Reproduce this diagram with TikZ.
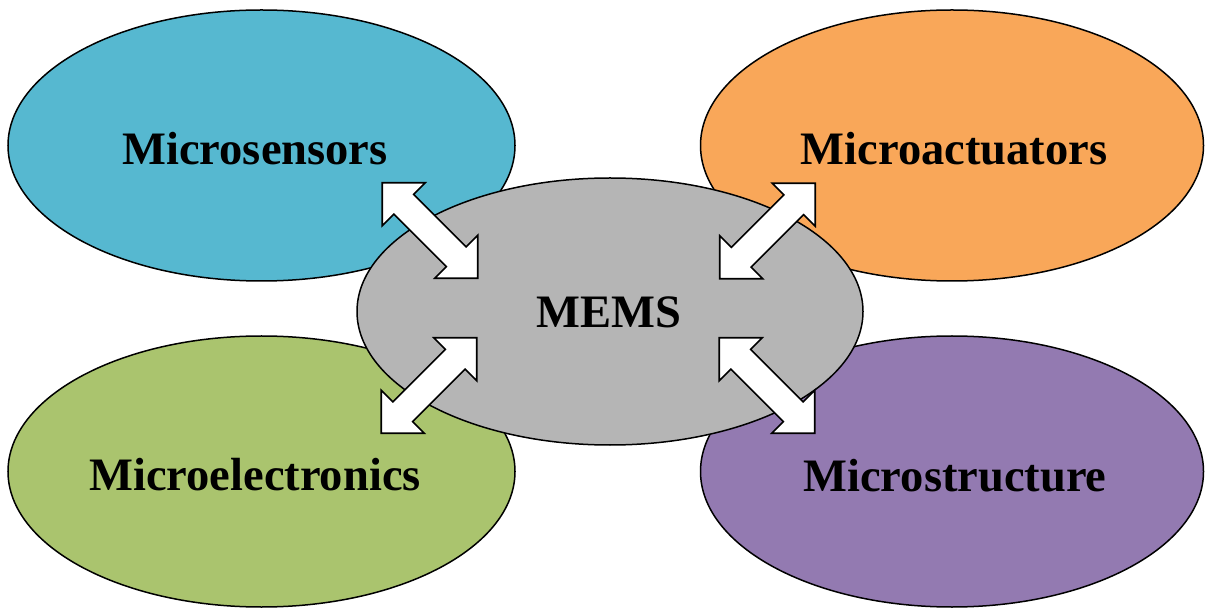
\documentclass[tikz,border=0pt]{standalone}
\usepackage{fontspec}
\setmainfont{Liberation Serif}
\definecolor{cblue}{RGB}{86,184,208}
\definecolor{corange}{RGB}{249,167,89}
\definecolor{cgreen}{RGB}{170,196,110}
\definecolor{cpurple}{RGB}{147,122,177}
\definecolor{cgray}{RGB}{181,181,181}
\tikzset{
  blob/.style={draw=black,line width=1.5pt},
  lbl/.style={font=\bfseries\fontsize{46.5}{50}\selectfont,anchor=base,inner sep=0pt},
  blockarrow/.pic={
    \draw[fill=white,draw=black,line width=1.6pt,line join=miter]
      (-67.5,0) -- (-37.1,30.4) -- (-37.1,14) -- (37.1,14) -- (37.1,30.4)
      -- (67.5,0) -- (37.1,-30.4) -- (37.1,-14) -- (-37.1,-14) -- (-37.1,-30.4) -- cycle;
  }
}
\begin{document}
\begin{tikzpicture}[x=1pt,y=-1pt]
\useasboundingbox (0,0) rectangle (1205,609);
% outer ellipses
\draw[blob,fill=cblue] (261.5,145.5) ellipse [x radius=253.5,y radius=135.5];
\draw[blob,fill=corange] (952,145.5) ellipse [x radius=251.5,y radius=135.5];
\draw[blob,fill=cgreen] (261.5,471.5) ellipse [x radius=253.5,y radius=135.5];
\draw[blob,fill=cpurple] (952,471.5) ellipse [x radius=251.5,y radius=135.5];
% centre
\draw[blob,fill=cgray] (610,311.5) ellipse [x radius=253,y radius=133.5];
% labels
\node[lbl] (sens) at (255,165) {Microsensors};
\node[lbl] (act) at (954,165) {Microactuators};
\node[lbl] (mems) at (609,328) {MEMS};
\node[lbl] (elec) at (255,490) {Microelectronics};
\node[lbl] (struc) at (955,491) {Microstructure};
% arrows
\coordinate (a1) at (430,230.5);
\coordinate (a2) at (767.5,231);
\coordinate (a3) at (429,385.5);
\coordinate (a4) at (767,385.5);
\pic[shift={(a1)},rotate=-45] {blockarrow};
\pic[shift={(a2)},rotate=45] {blockarrow};
\pic[shift={(a3)},rotate=45] {blockarrow};
\pic[shift={(a4)},rotate=-45] {blockarrow};
\end{tikzpicture}
\end{document}
